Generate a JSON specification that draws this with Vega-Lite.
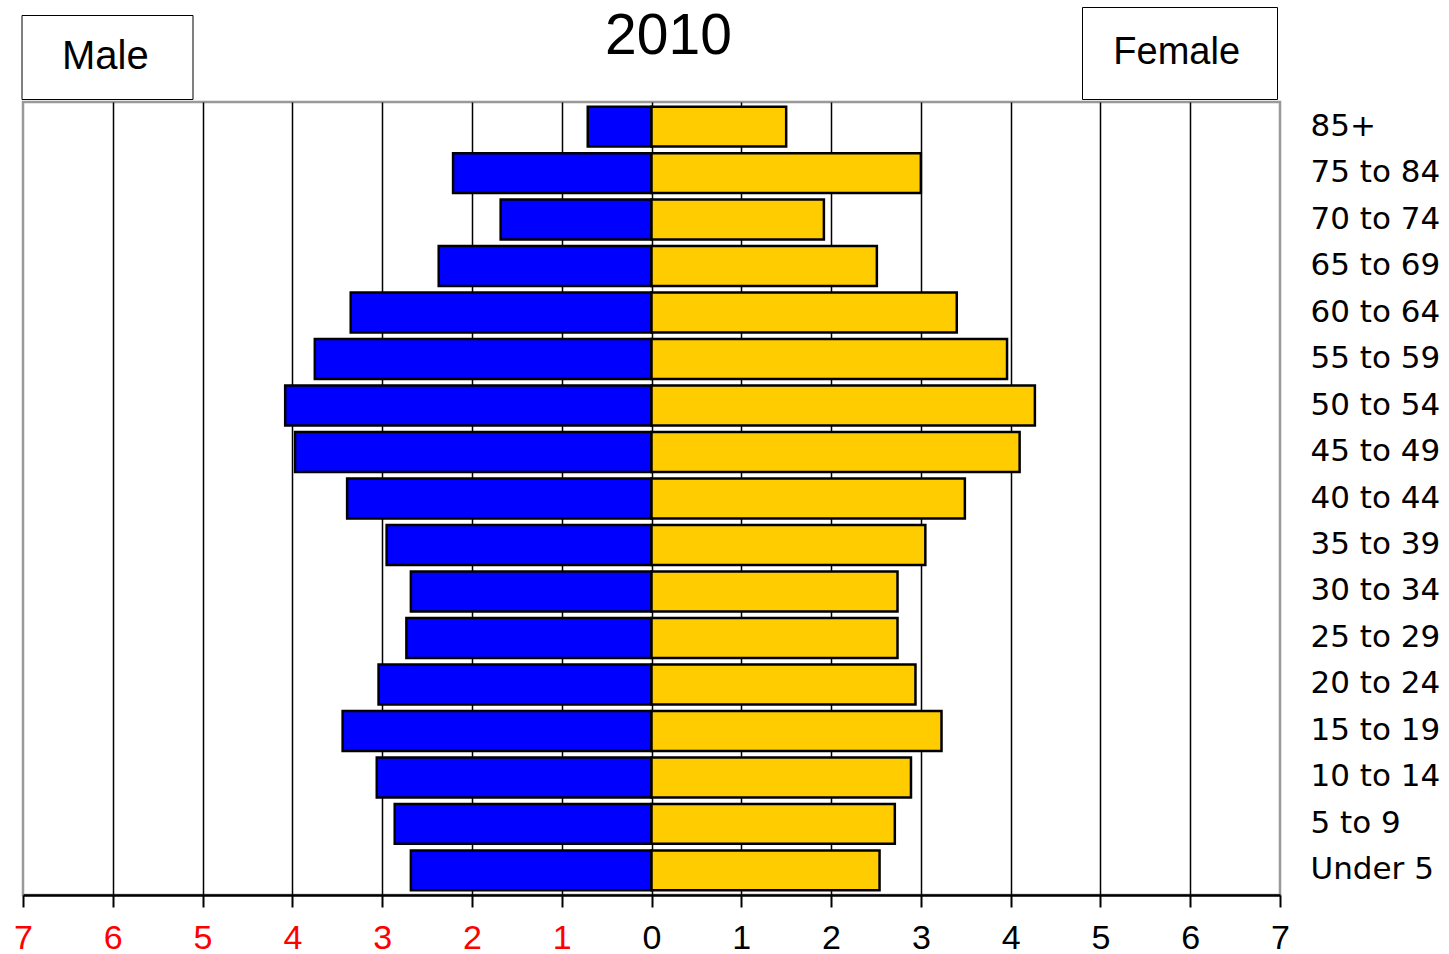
{
  "$schema": "https://vega.github.io/schema/vega-lite/v6.json",
  "width": 1257,
  "height": 793,
  "autosize": {"type": "none"},
  "padding": {"left": 23, "top": 102, "right": 169, "bottom": 59},
  "background": "white",
  "config": {"view": {"stroke": "#999999", "strokeWidth": 2.5}},
  "data": {"values": [
    {"age": "85+", "sex": "Male", "value": -0.71},
    {"age": "75 to 84", "sex": "Male", "value": -2.21},
    {"age": "70 to 74", "sex": "Male", "value": -1.68},
    {"age": "65 to 69", "sex": "Male", "value": -2.37},
    {"age": "60 to 64", "sex": "Male", "value": -3.35},
    {"age": "55 to 59", "sex": "Male", "value": -3.75},
    {"age": "50 to 54", "sex": "Male", "value": -4.08},
    {"age": "45 to 49", "sex": "Male", "value": -3.97},
    {"age": "40 to 44", "sex": "Male", "value": -3.39},
    {"age": "35 to 39", "sex": "Male", "value": -2.95},
    {"age": "30 to 34", "sex": "Male", "value": -2.68},
    {"age": "25 to 29", "sex": "Male", "value": -2.73},
    {"age": "20 to 24", "sex": "Male", "value": -3.04},
    {"age": "15 to 19", "sex": "Male", "value": -3.44},
    {"age": "10 to 14", "sex": "Male", "value": -3.06},
    {"age": "5 to 9", "sex": "Male", "value": -2.86},
    {"age": "Under 5", "sex": "Male", "value": -2.68},
    {"age": "85+", "sex": "Female", "value": 1.5},
    {"age": "75 to 84", "sex": "Female", "value": 3.0},
    {"age": "70 to 74", "sex": "Female", "value": 1.92},
    {"age": "65 to 69", "sex": "Female", "value": 2.51},
    {"age": "60 to 64", "sex": "Female", "value": 3.4},
    {"age": "55 to 59", "sex": "Female", "value": 3.96},
    {"age": "50 to 54", "sex": "Female", "value": 4.27},
    {"age": "45 to 49", "sex": "Female", "value": 4.1},
    {"age": "40 to 44", "sex": "Female", "value": 3.49},
    {"age": "35 to 39", "sex": "Female", "value": 3.05},
    {"age": "30 to 34", "sex": "Female", "value": 2.74},
    {"age": "25 to 29", "sex": "Female", "value": 2.74},
    {"age": "20 to 24", "sex": "Female", "value": 2.94},
    {"age": "15 to 19", "sex": "Female", "value": 3.23},
    {"age": "10 to 14", "sex": "Female", "value": 2.89},
    {"age": "5 to 9", "sex": "Female", "value": 2.71},
    {"age": "Under 5", "sex": "Female", "value": 2.54}
  ]},
  "encoding": {
    "y": {
      "field": "age", "type": "nominal",
      "sort": ["85+", "75 to 84", "70 to 74", "65 to 69", "60 to 64", "55 to 59", "50 to 54", "45 to 49", "40 to 44", "35 to 39", "30 to 34", "25 to 29", "20 to 24", "15 to 19", "10 to 14", "5 to 9", "Under 5"],
      "scale": {"paddingInner": 0.14, "paddingOuter": 0.1},
      "axis": {"orient": "right", "title": null, "domain": false, "ticks": false, "grid": false, "labelFont": "DejaVu Sans", "labelFontSize": 31, "labelColor": "black", "labelPadding": 30}
    }
  },
  "layer": [
    {
      "transform": [{"filter": "datum.sex == 'Male'"}],
      "mark": {"type": "bar", "stroke": "black", "strokeWidth": 2.5},
      "encoding": {
        "x": {
          "field": "value", "type": "quantitative",
          "scale": {"domain": [-7, 7], "nice": false},
          "axis": {
            "orient": "bottom",
            "title": null,
            "values": [-7, -6, -5, -4, -3, -2, -1, 0, 1, 2, 3, 4, 5, 6, 7],
            "labelExpr": "'' + abs(datum.value)",
            "labelColor": {"condition": {"test": "datum.value < 0", "value": "#FF0000"}, "value": "black"},
            "labelFont": "Liberation Sans", "labelFontSize": 34, "labelPadding": 14, "labelFlush": false,
            "tickColor": "black", "tickSize": 12, "tickWidth": 2,
            "domainColor": "black", "domainWidth": 2.5,
            "grid": true,
            "gridColor": {"condition": {"test": "abs(datum.value) == 7", "value": "transparent"}, "value": "black"},
            "gridWidth": 1.5
          }
        },
        "color": {
          "field": "sex", "type": "nominal",
          "scale": {"domain": ["Male"], "range": ["#0000FF"]},
          "legend": {
            "orient": "none", "legendX": -1.5, "legendY": -87,
            "title": ".", "titleOrient": "right", "titleFontSize": 10, "titleColor": "white", "titlePadding": 18.5,
            "labelFont": "Liberation Sans", "labelFontSize": 40, "labelColor": "black",
            "symbolSize": 0, "symbolOpacity": 0, "symbolStrokeWidth": 0, "labelOffset": -21.5,
            "padding": 22, "strokeColor": "black", "fillColor": "white",
            "encode": {"legend": {"update": {"strokeWidth": {"value": 3}}}}
          }
        }
      }
    },
    {
      "transform": [{"filter": "datum.sex == 'Female'"}],
      "mark": {"type": "bar", "stroke": "black", "strokeWidth": 2.5},
      "encoding": {
        "x": {
          "field": "value", "type": "quantitative",
          "scale": {"domain": [-7, 7], "nice": false},
          "axis": {
            "orient": "top",
            "title": "2010",
            "labels": false, "ticks": false, "domain": false, "grid": false,
            "titleFont": "Liberation Sans", "titleFontSize": 57, "titleFontWeight": "normal", "titleColor": "black",
            "titleX": 645, "titleY": -49, "titleAlign": "center", "titleBaseline": "alphabetic"
          }
        },
        "color": {
          "field": "sex", "type": "nominal",
          "scale": {"domain": ["Female"], "range": ["#FFCC00"]},
          "legend": {
            "orient": "none", "legendX": 1059, "legendY": -95,
            "title": ".", "titleOrient": "right", "titleFontSize": 10, "titleColor": "white", "titlePadding": 6.5,
            "labelFont": "Liberation Sans", "labelFontSize": 38, "labelColor": "black",
            "symbolSize": 0, "symbolOpacity": 0, "symbolStrokeWidth": 0, "labelOffset": -33.7,
            "padding": 27, "strokeColor": "black", "fillColor": "white",
            "encode": {"legend": {"update": {"strokeWidth": {"value": 3}}}}
          }
        }
      }
    }
  ],
  "resolve": {"scale": {"color": "independent"}, "axis": {"x": "independent"}}
}
